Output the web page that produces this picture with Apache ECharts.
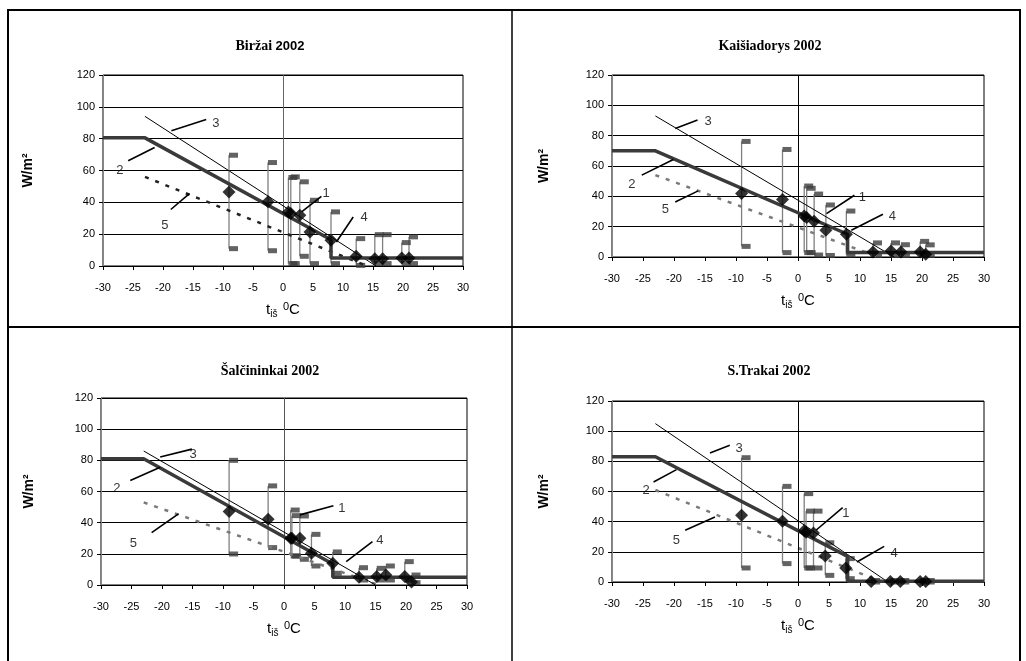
<!DOCTYPE html>
<html><head><meta charset="utf-8">
<script src="https://cdn.jsdelivr.net/npm/echarts/dist/echarts.min.js"></script>
<style>html,body{margin:0;padding:0;background:#fff}#c{width:1026px;height:661px}</style>
</head><body><div id="c"></div>
<script>
// ---------- data ----------
const TITLES = ['{a|Biržai }{b|2002}', '{a|Kaišiadorys 2002}', '{a|Šalčininkai 2002}', '{a|S.Trakai 2002}'];
const X_TICKS = { min: -30, max: 30, step: 5 };
const Y_TICKS = { min: 0, max: 120, step: 20 };

// Biržai
const T_BIRZAI  = [-9.0, -2.5, 0.9, 1.3, 2.8, 4.5, 8.0, 12.2, 15.3, 16.6, 19.8, 21.0];
const Q_BIRZAI  = [46.5, 40.3, 34, 33, 31.9, 21.4, 16.2, 6.1, 4.6, 4.6, 5, 5];
const HI_BIRZAI = [69.6, 65, 55.6, 56, 52.9, 41.3, 34, 17.2, 19.7, 19.7, 14.7, 18.3];
const LO_BIRZAI = [10.9, 9.6, 1.5, 1.5, 6.1, 1.5, 1.5, 0.4, 1.5, 1.5, 1.5, 1.5];
const L2_BIRZAI = [[-30, 80.5], [-23, 80.5], [8, 16.5], [8, 5], [30, 5]];
const L3_BIRZAI = [[-23, 94], [15.5, 0]];
const L5_BIRZAI = [[-23, 56], [14, 0]];
const ANN_BIRZAI = [
  ['1', 3.1, 34, 6.4, 43.8, 7.2, 45.9],
  ['2', -25.8, 66.1, -21.4, 74.5, -27.2, 60.2],
  ['3', -18.6, 85, -12.8, 92.1, -11.2, 89.5],
  ['4', 8.9, 15.1, 11.7, 30.8, 13.5, 30.8],
  ['5', -18.7, 35.5, -15.6, 45.5, -19.7, 25.2]
];

// Kaišiadorys
const T_KAIS  = [-9.1, -2.5, 1.0, 1.4, 2.6, 4.5, 7.8, 12.1, 15.0, 16.6, 19.7, 20.6];
const Q_KAIS  = [41.9, 37.9, 27.1, 26, 23.6, 17.6, 15, 3.3, 4, 3.3, 3.3, 1.8];
const HI_KAIS = [76.2, 70.9, 46.8, 45.3, 41.5, 34.3, 30.3, 9.3, 9.3, 8.1, 10.3, 8];
const LO_KAIS = [7, 2.9, 2.9, 2.9, 1.3, 1, 1.3, 1.1, 1, 1, 1, 1];
const L2_KAIS = [[-30, 70], [-23, 70], [8, 15], [8, 3], [30, 3]];
const L3_KAIS = [[-23, 93], [15.5, 0]];
const L5_KAIS = [[-23, 54], [13, 0]];
const ANN_KAIS = [
  ['1', 4.6, 28.6, 9.1, 40.7, 10.4, 39.2],
  ['2', -25.2, 54, -20.1, 64.3, -26.8, 48],
  ['3', -19.8, 84.8, -16.2, 90.3, -14.5, 89.2],
  ['4', 8.6, 17.6, 13.7, 28.2, 15.2, 26.9],
  ['5', -19.8, 36.3, -16.1, 43.6, -21.4, 31.3]
];

// Šalčininkai
const T_SALC  = [-9.0, -2.6, 1.1, 1.3, 2.6, 4.5, 8.0, 12.3, 15.2, 16.7, 19.8, 20.9];
const Q_SALC  = [47.1, 42.2, 30, 30, 30, 20.4, 13.9, 4.9, 5.4, 6.4, 5.4, 2];
const HI_SALC = [80, 63.6, 48.1, 44.5, 44.3, 32.5, 21.2, 11.1, 10.7, 12.2, 15, 6.4];
const LO_SALC = [19.9, 24, 18.6, 18.6, 16.5, 12.2, 7.5, 3.2, 3.2, 3.2, 3.2, 1.5];
const L2_SALC = [[-30, 81], [-23, 81], [8, 13.5], [8, 5], [30, 5]];
const L3_SALC = [[-23, 86], [15, 0]];
const L5_SALC = [[-23, 53], [15.5, 0]];
const ANN_SALC = [
  ['1', 2.6, 45, 8.1, 50.8, 9.5, 49.3],
  ['2', -25.2, 67, -20.3, 75.6, -27.4, 62.1],
  ['3', -20.3, 82.1, -15.1, 87.2, -14.9, 83.6],
  ['4', 10.2, 15, 14.5, 27.9, 15.7, 28.9],
  ['5', -21.7, 33.6, -17.3, 45.6, -24.7, 26.4]
];

// S.Trakai
const T_TRAK  = [-9.1, -2.5, 1.0, 1.3, 2.5, 4.4, 7.7, 11.8, 14.9, 16.5, 19.7, 20.6];
const Q_TRAK  = [44.2, 40.2, 34, 33, 32.5, 17.2, 9.3, 0.4, 0.4, 0.4, 0.4, 0.4];
const HI_TRAK = [82.4, 63.4, 58.6, 47, 47, 26, 15.5, 1, 1, 1, 1, 1];
const LO_TRAK = [9.3, 12.2, 9.3, 9.3, 9.3, 4.4, 2.2, 0, 0, 0, 0, 0];
const L2_TRAK = [[-30, 83], [-23, 83], [8, 17], [8, 0.5], [30, 0.5]];
const L3_TRAK = [[-23, 105], [14.5, 0]];
const L5_TRAK = [[-23, 61], [13.5, 0]];
const ANN_TRAK = [
  ['1', 2.9, 34.3, 7.2, 49.3, 7.7, 45.7],
  ['2', -23.3, 66.3, -19.6, 74.5, -24.5, 60.8],
  ['3', -14.2, 85.5, -11, 90.6, -9.5, 88.4],
  ['4', 9.5, 13.3, 13.9, 23.6, 15.5, 19.2],
  ['5', -18.2, 34.3, -13.4, 43.1, -19.6, 27.6]
];

// ---------- layout / style ----------
const PANELS = [
  { T: T_BIRZAI, Q: Q_BIRZAI, HI: HI_BIRZAI, LO: LO_BIRZAI, L2: L2_BIRZAI, L3: L3_BIRZAI, L5: L5_BIRZAI, ANN: ANN_BIRZAI },
  { T: T_KAIS, Q: Q_KAIS, HI: HI_KAIS, LO: LO_KAIS, L2: L2_KAIS, L3: L3_KAIS, L5: L5_KAIS, ANN: ANN_KAIS },
  { T: T_SALC, Q: Q_SALC, HI: HI_SALC, LO: LO_SALC, L2: L2_SALC, L3: L3_SALC, L5: L5_SALC, ANN: ANN_SALC },
  { T: T_TRAK, Q: Q_TRAK, HI: HI_TRAK, LO: LO_TRAK, L2: L2_TRAK, L3: L3_TRAK, L5: L5_TRAK, ANN: ANN_TRAK }
];
const GRIDS = [
  { left: 103, top: 75, width: 360, height: 191 },
  { left: 612, top: 75, width: 372, height: 182 },
  { left: 101, top: 398, width: 366, height: 187 },
  { left: 612, top: 401, width: 372, height: 181 }
];
const TITLE_POS = [[270, 46], [770, 46], [270, 371], [769, 371]];
const YNAME_GAP = [68, 61, 65, 61];
const ZERO_COLOR = ['#666', '#000', '#555', '#000'];
const DASH_COLOR = ['#222', '#7a7a7a', '#7a7a7a', '#7a7a7a'];
const SANS = 'Liberation Sans';
const SERIF = 'Liberation Serif';

const chart = echarts.init(document.getElementById('c'), null, { renderer: 'canvas' });

const grid = [], xAxis = [], yAxis = [], series = [], graphic = [];

graphic.push({ type: 'rect', shape: { x: 8, y: 10, width: 1012, height: 652 }, style: { fill: 'none', stroke: '#000', lineWidth: 2 }, silent: true });
graphic.push({ type: 'line', shape: { x1: 512, y1: 10, x2: 512, y2: 661 }, style: { stroke: '#000', lineWidth: 1.5 }, silent: true });
graphic.push({ type: 'line', shape: { x1: 8, y1: 327, x2: 1020, y2: 327 }, style: { stroke: '#000', lineWidth: 2 }, silent: true });

PANELS.forEach((p, i) => {
  grid.push(Object.assign({ show: true, borderColor: '#000', borderWidth: 1, backgroundColor: 'transparent' }, GRIDS[i]));
  graphic.push({
    type: 'text', x: TITLE_POS[i][0], y: TITLE_POS[i][1], silent: true,
    style: {
      text: TITLES[i], fill: '#000', textAlign: 'center', textVerticalAlign: 'middle',
      rich: {
        a: { fontFamily: SERIF, fontSize: 14, fontWeight: 'bold', fill: '#000', color: '#000' },
        b: { fontFamily: SANS, fontSize: 13, fontWeight: 'bold', fill: '#000', color: '#000' }
      }
    }
  });
  xAxis.push({
    gridIndex: i, type: 'value', min: X_TICKS.min, max: X_TICKS.max, interval: X_TICKS.step,
    axisLine: { onZero: false, lineStyle: { color: '#000', width: 1 } },
    axisTick: { show: true, length: 4, lineStyle: { color: '#000' } },
    axisLabel: { fontSize: 11, color: '#000', fontFamily: SANS, margin: 16 },
    splitLine: { show: false },
    name: '{t|t}{s|iš}{g|  }{o|0}{t|C}', nameLocation: 'middle', nameGap: 35,
    nameTextStyle: {
      color: '#000', fontFamily: SANS,
      rich: {
        t: { fontSize: 15, fontFamily: SANS, color: '#000', lineHeight: 18 },
        s: { fontSize: 10, fontFamily: SANS, color: '#000', verticalAlign: 'bottom', lineHeight: 12 },
        g: { fontSize: 10, fontFamily: SANS },
        o: { fontSize: 11, fontFamily: SANS, color: '#000', verticalAlign: 'top', lineHeight: 12 }
      }
    }
  });
  yAxis.push({
    gridIndex: i, type: 'value', min: Y_TICKS.min, max: Y_TICKS.max, interval: Y_TICKS.step,
    axisLine: { show: true, onZero: false, lineStyle: { color: '#888' } },
    axisTick: { show: true, length: 4, lineStyle: { color: '#000' } },
    axisLabel: { fontSize: 11, color: '#000', fontFamily: SANS, margin: 8 },
    splitLine: { show: true, lineStyle: { color: '#000', width: 1 } },
    name: 'W/m²', nameLocation: 'middle', nameGap: YNAME_GAP[i],
    nameTextStyle: { fontSize: 14, fontWeight: 'bold', color: '#000', fontFamily: SANS }
  });

  // 4: high-low range lines
  series.push({
    type: 'custom', xAxisIndex: i, yAxisIndex: i, z: 2, silent: true,
    data: p.T.map((t, k) => [t, p.LO[k], p.HI[k]]),
    encode: { x: 0, y: [1, 2] },
    renderItem: (params, api) => {
      const a = api.coord([api.value(0), api.value(1)]);
      const b = api.coord([api.value(0), api.value(2)]);
      return { type: 'line', shape: { x1: a[0], y1: a[1], x2: b[0], y2: b[1] }, style: { stroke: '#808080', lineWidth: 1.3 } };
    }
  });
  // 4: range markers
  [p.HI, p.LO].forEach(arr => {
    series.push({
      type: 'scatter', xAxisIndex: i, yAxisIndex: i, z: 3, silent: true,
      data: p.T.map((t, k) => [t, arr[k]]),
      symbol: 'rect', symbolSize: [9, 5], symbolOffset: [4.5, 0],
      itemStyle: { color: '#3c3c3c' }
    });
  });
  // 5: dotted line
  series.push({
    type: 'line', xAxisIndex: i, yAxisIndex: i, z: 4, silent: true, showSymbol: false, symbol: 'none',
    data: p.L5, lineStyle: { color: DASH_COLOR[i], width: 2.5, type: [4, 7] }
  });
  // 3: thin line (with x = 0 vertical reference)
  series.push({
    type: 'line', xAxisIndex: i, yAxisIndex: i, z: 5, silent: true, showSymbol: false, symbol: 'none',
    data: p.L3, lineStyle: { color: '#000', width: 1 },
    markLine: {
      silent: true, symbol: ['none', 'none'], label: { show: false },
      lineStyle: { color: ZERO_COLOR[i], width: 1, type: 'solid' },
      data: [{ xAxis: 0 }]
    }
  });
  // 2: thick line
  series.push({
    type: 'line', xAxisIndex: i, yAxisIndex: i, z: 6, silent: true, showSymbol: false, symbol: 'none',
    data: p.L2, lineStyle: { color: '#3a3a3a', width: 3.5 }
  });
  // 1: mean values
  series.push({
    type: 'scatter', xAxisIndex: i, yAxisIndex: i, z: 7, silent: true,
    data: p.T.map((t, k) => [t, p.Q[k]]),
    symbol: 'diamond', symbolSize: 13, itemStyle: { color: '#000' }
  });
  // annotation leaders
  series.push({
    type: 'lines', coordinateSystem: 'cartesian2d', xAxisIndex: i, yAxisIndex: i, z: 8, silent: true,
    data: p.ANN.map(a => ({ coords: [[a[1], a[2]], [a[3], a[4]]] })),
    lineStyle: { color: '#000', width: 1.6, opacity: 1 }
  });
  // annotation numbers
  series.push({
    type: 'scatter', xAxisIndex: i, yAxisIndex: i, z: 9, silent: true,
    data: p.ANN.map(a => ({ value: [a[5], a[6]], name: a[0] })),
    symbolSize: 1, itemStyle: { color: 'transparent' },
    label: { show: true, position: 'inside', formatter: d => d.name, fontSize: 13, color: '#000', fontFamily: SANS }
  });
});

chart.setOption({ animation: false, backgroundColor: '#fff', grid, xAxis, yAxis, series, graphic });
</script>
</body></html>
